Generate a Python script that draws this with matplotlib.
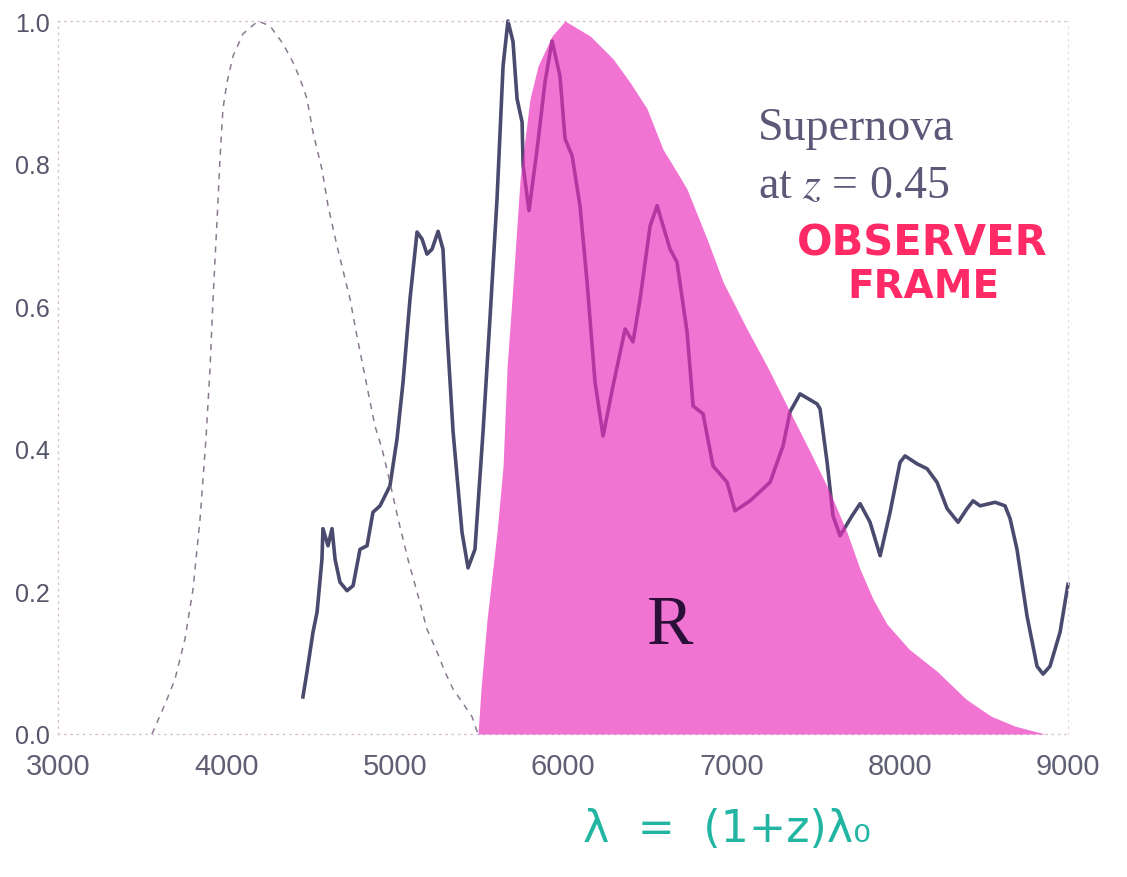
import numpy as np
import matplotlib
matplotlib.use("Agg")
import matplotlib.pyplot as plt

# supernova spectrum, observer frame (wavelength in Angstrom, normalised flux)
spec_wave = [4455, 4479, 4515, 4539, 4568, 4574, 4604, 4628, 4646, 4675, 4717, 4753,
             4794, 4836, 4871, 4913, 4972, 5014, 5050, 5091, 5133, 5163, 5192, 5222,
             5258, 5287, 5311, 5347, 5400, 5436, 5477, 5525, 5567, 5608, 5644, 5673,
             5703, 5727, 5757, 5763, 5798, 5846, 5893, 5935, 5982, 6012, 6054, 6101,
             6143, 6190, 6238, 6297, 6369, 6416, 6458, 6517, 6559, 6636, 6677, 6737,
             6773, 6832, 6891, 6975, 7022, 7111, 7230, 7307, 7349, 7408, 7509, 7527,
             7569, 7604, 7646, 7717, 7765, 7824, 7884, 7943, 8002, 8032, 8103, 8163,
             8222, 8282, 8347, 8400, 8436, 8478, 8567, 8626, 8656, 8697, 8757, 8816,
             8852, 8893, 8953, 9000]
spec_flux = [0.052, 0.087, 0.143, 0.171, 0.245, 0.288, 0.264, 0.288, 0.245, 0.213, 0.201, 0.208,
             0.259, 0.264, 0.311, 0.320, 0.348, 0.414, 0.494, 0.610, 0.704, 0.694, 0.673, 0.680,
             0.705, 0.680, 0.564, 0.424, 0.283, 0.233, 0.259, 0.424, 0.586, 0.750, 0.937, 1.000,
             0.971, 0.891, 0.858, 0.797, 0.734, 0.820, 0.914, 0.972, 0.923, 0.835, 0.811, 0.741,
             0.634, 0.494, 0.418, 0.488, 0.568, 0.550, 0.610, 0.712, 0.741, 0.680, 0.662, 0.564,
             0.460, 0.449, 0.376, 0.353, 0.313, 0.327, 0.353, 0.404, 0.452, 0.477, 0.463, 0.456,
             0.381, 0.306, 0.278, 0.306, 0.323, 0.297, 0.250, 0.311, 0.381, 0.390, 0.379, 0.372,
             0.353, 0.316, 0.297, 0.316, 0.327, 0.320, 0.325, 0.320, 0.302, 0.259, 0.165, 0.095,
             0.084, 0.095, 0.143, 0.210]

# B filter transmission (dashed)
b_wave = [3558, 3636, 3695, 3754, 3802, 3844, 3879, 3903, 3921, 3951, 3962, 3980, 4004,
          4040, 4099, 4188, 4260, 4337, 4396, 4438, 4479, 4515, 4568, 4604, 4658, 4735,
          4776, 4842, 4883, 4925, 4972, 5020, 5079, 5139, 5192, 5252, 5299, 5347, 5400,
          5460, 5495]
b_trans = [0.000, 0.042, 0.077, 0.133, 0.203, 0.302, 0.414, 0.512, 0.610, 0.750, 0.806, 0.877, 0.914,
           0.951, 0.982, 1.000, 0.993, 0.968, 0.942, 0.919, 0.891, 0.844, 0.792, 0.741, 0.684, 0.610,
           0.558, 0.480, 0.432, 0.400, 0.353, 0.302, 0.245, 0.194, 0.147, 0.115, 0.087, 0.063, 0.045,
           0.024, 0.000]

# R filter transmission (shaded)
r_wave = [5495, 5513, 5549, 5608, 5644, 5668, 5697, 5745, 5804, 5852, 5935, 6012, 6161,
          6297, 6398, 6499, 6594, 6677, 6737, 6856, 6951, 7093, 7212, 7331, 7468, 7586,
          7687, 7765, 7842, 7925, 8056, 8222, 8394, 8543, 8686, 8864]
r_trans = [0.000, 0.063, 0.161, 0.283, 0.376, 0.516, 0.610, 0.778, 0.891, 0.937, 0.979, 1.000, 0.979,
           0.947, 0.914, 0.877, 0.820, 0.788, 0.764, 0.694, 0.634, 0.568, 0.516, 0.460, 0.396, 0.339,
           0.283, 0.231, 0.189, 0.154, 0.119, 0.088, 0.049, 0.025, 0.011, 0.000]

x_ticks = [3000, 4000, 5000, 6000, 7000, 8000, 9000]
y_ticks = [0.0, 0.2, 0.4, 0.6, 0.8, 1.0]

plt.rcParams['mathtext.fontset'] = 'stix'

fig = plt.figure(figsize=(11.27, 8.78), dpi=100)
ax = fig.add_axes([58/1127, 1 - 735/878, 1010/1127, 713/878])

ax.plot(spec_wave, spec_flux, color='#4a4a6e', lw=2.6, zorder=2, clip_on=False,
        solid_joinstyle='round')
ax.plot(b_wave, b_trans, color='#8a7a90', lw=1.1, dashes=(4, 4), zorder=2, clip_on=False)
ax.fill_between(r_wave, r_trans, 0, color='#eb2cbd', alpha=0.66, lw=0, zorder=3)

ax.text(6636, 0.151, 'R', family='Liberation Serif', fontsize=50, color='#2a1038',
        ha='center', va='center', zorder=4)
ax.text(7159, 0.834, 'Supernova', family='Liberation Serif', fontsize=33, color='#5c5878')
ax.text(7159, 0.753, 'at $z$ = 0.45', family='Liberation Serif', fontsize=33, color='#5c5878')
ax.text(7390, 0.690, 'OBSERVER', family='DejaVu Sans', fontsize=30, fontweight='bold',
        color='#ff2a66', va='center')
ax.text(7687, 0.628, 'FRAME', family='DejaVu Sans', fontsize=28, fontweight='bold',
        color='#ff2a66', va='center')

fig.text(0.645, 0.0547, 'λ  =  (1+z)λ₀', family='DejaVu Sans', fontsize=32,
         color='#22b5a2', ha='center', va='center')

ax.set_xlim(3000, 9000)
ax.set_ylim(0, 1)
ax.set_xticks(x_ticks)
ax.set_yticks(y_ticks)
ax.set_yticklabels(['%.1f' % v for v in y_ticks])
ax.tick_params(axis='x', length=0, pad=13, labelsize=21, labelcolor='#606074')
ax.tick_params(axis='y', length=0, pad=6, labelsize=18, labelcolor='#55556a')
for lbl in ax.get_xticklabels() + ax.get_yticklabels():
    lbl.set_family('Liberation Sans')

for side in ['top', 'bottom', 'left', 'right']:
    ax.spines[side].set_linestyle((0, (1, 4)))
    ax.spines[side].set_color('#d4b8d4')
    ax.spines[side].set_linewidth(0.9)
ax.spines['right'].set_color('#e6d6e6')

fig.savefig('out.png', dpi=100, facecolor='white')
